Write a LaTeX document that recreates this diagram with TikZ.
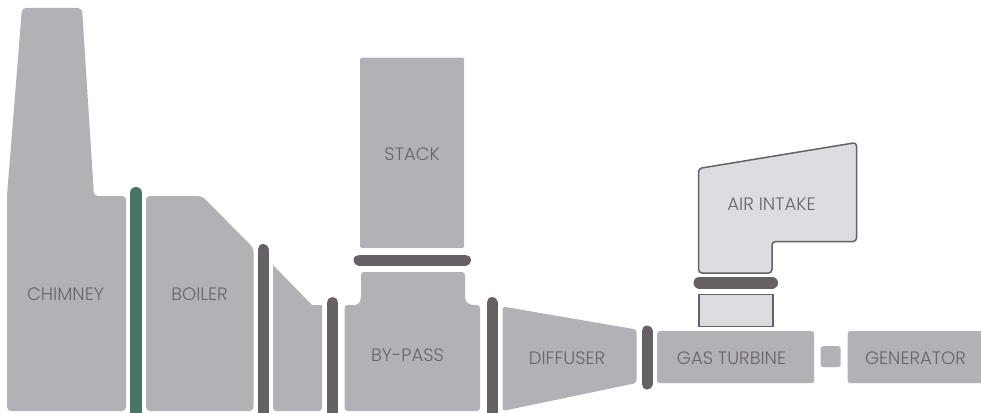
\documentclass[tikz,border=0pt]{standalone}
\usepackage{fontspec}
\setmainfont{Poppins Light}
\usepackage{xcolor}
\definecolor{ink}{HTML}{68656A}
\definecolor{part}{HTML}{B2B1B6}
\definecolor{pale}{HTML}{DCDCE1}
\definecolor{damper}{HTML}{656165}
\definecolor{valve}{HTML}{487561}
\usetikzlibrary{positioning}
\tikzset{
  part/.style={fill=part, draw=none, rounded corners=4pt},
  pale/.style={fill=pale, draw=damper, line width=1.5pt, rounded corners=3.5pt},
  bar/.style={draw=damper, line width=11pt, line cap=round},
  lbl/.style={font=\fontsize{18}{21}\selectfont, text=ink, inner sep=0pt},
  block/.style={part, anchor=north west, inner sep=0pt, rounded corners=2.5pt},
}
\begin{document}
\begin{tikzpicture}[x=1pt, y=-1pt]
  \clip (0,0) rectangle (981,412);

  % chimney and boiler
  \draw[part] (7,411) -- (7,196) -- (22,8) -- (82,8) -- (94,196) -- (126,196) -- (126,411) -- cycle;
  \node[lbl] (chimney) at (65.5,294) {CHIMNEY};
  \draw[bar, draw=valve, line width=12pt] (136,193) -- (136,425);
  \draw[part] (146,411) -- (146,196) -- (202,196) -- (253.5,248) -- (253.5,411) -- cycle;
  \node[lbl] (boiler) at (199.5,294) {BOILER};
  \draw[bar] (263,249.5) -- (263,425);
  \draw[fill=part, draw=none] (273,265) -- (312,305) -- (322,305) [rounded corners=3pt] -- (322,411) -- (273,411) [sharp corners] -- cycle;
  \draw[bar] (332.5,302.5) -- (332.5,425);

  % stack and by-pass
  \node[block, minimum width=104pt, minimum height=190.5pt, rounded corners=1.5pt] (stack) at (360,57.5) {};
  \node[lbl] (stacklbl) at (stack.center) [yshift=-1.3pt] {STACK};
  \draw[bar] (359,260) -- (465.5,260);
  \draw[fill=part, draw=none, rounded corners=3pt] (344.5,411) -- (344.5,305) -- (352,305)
    [sharp corners] .. controls (358,305) and (361,302) .. (361,296)
    [rounded corners=3pt] -- (361,272) -- (465,272)
    [sharp corners] -- (465,296) .. controls (465,302) and (468,305) .. (474,305)
    [rounded corners=3pt] -- (480,305) -- (480,411) -- cycle;
  \node[lbl] (bypass) at (407.5,355) {BY-PASS};
  \draw[bar] (492,302.5) -- (492,425);

  % diffuser and turbine
  \draw[part, rounded corners=3pt] (502.5,306.5) -- (636.5,329.5) -- (636.5,383) -- (502.5,411) -- cycle;
  \node[lbl] (diffuser) at (567,358) {DIFFUSER};
  \draw[bar] (647,331) -- (647,384);
  \node[block, minimum width=157pt, minimum height=52pt] (turbine) at (657,331) {};
  \node[lbl] (turbinelbl) at (731.5,358) {GAS TURBINE};
  \node[block, minimum width=20pt, minimum height=21pt] (shaft) at (820.5,346) {};
  \node[block, minimum width=140pt, minimum height=52pt] (generator) at (847.5,331) {};
  \node[lbl] (generatorlbl) at (915.5,358) {GENERATOR};

  % air intake
  \draw[pale] (698.5,168.5) -- (856.5,142.5) -- (856.5,241.5) -- (772,241.5) -- (772,273) -- (698.5,273) -- cycle;
  \node[lbl] (intake) at (771.5,204) {AIR INTAKE};
  \draw[bar, line width=12pt] (699.5,282.7) -- (772,282.7);
  \node[pale, rounded corners=0pt, anchor=north west, inner sep=0pt, minimum width=74pt, minimum height=32pt] (duct) at (698,293.7) {};
\end{tikzpicture}
\end{document}
